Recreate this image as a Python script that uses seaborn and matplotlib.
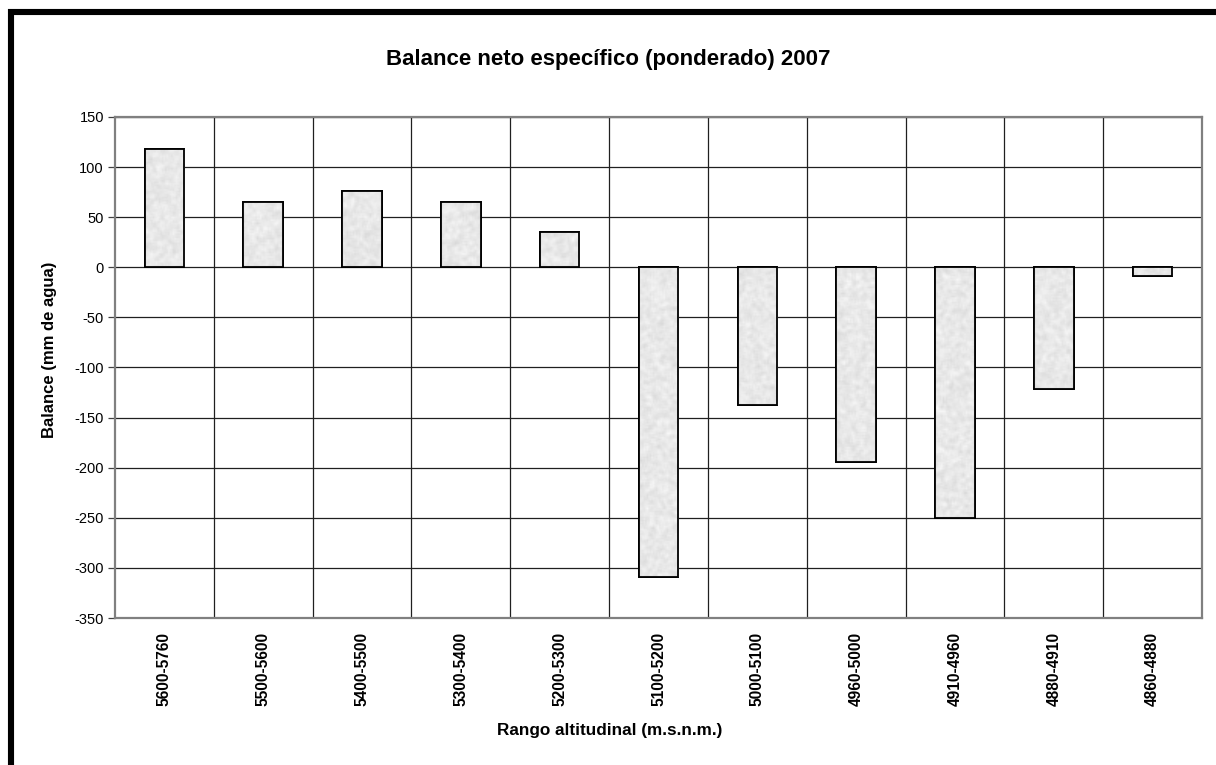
import numpy as np
import pandas as pd
import matplotlib
matplotlib.use("Agg")
import matplotlib.pyplot as plt
from matplotlib.lines import Line2D
import seaborn as sns

# Altitude bands (m a.s.l.) and specific net balance (mm w.e.)
rangos = ["5600-5760", "5500-5600", "5400-5500", "5300-5400", "5200-5300",
          "5100-5200", "5000-5100", "4960-5000", "4910-4960", "4880-4910",
          "4860-4880"]
balance = [118, 65, 76, 65, 35, -309, -137, -194, -250, -121, -9]
y_ticks = [150, 100, 50, 0, -50, -100, -150, -200, -250, -300, -350]

df = pd.DataFrame({"rango": rangos, "balance": balance})

sns.set_theme(style="white")
plt.rcParams["font.family"] = ["Liberation Sans", "DejaVu Sans"]
plt.rcParams["axes.unicode_minus"] = False
plt.rcParams["text.color"] = "black"
plt.rcParams["axes.labelcolor"] = "black"
plt.rcParams["xtick.color"] = "black"
plt.rcParams["ytick.color"] = "black"

W, H = 1216, 765
fig = plt.figure(figsize=(W / 100, H / 100), dpi=100)
ax = fig.add_axes([115 / W, 1 - 618 / H, (1202 - 115) / W, (618 - 117) / H])

sns.barplot(data=df, x="rango", y="balance", order=rangos, width=0.4,
            color="#efefef", edgecolor="black", linewidth=1.3,
            saturation=1, ax=ax, zorder=3)

# light stippled grey fill inside each bar
rng = np.random.default_rng(7)
for patch in ax.patches:
    x0, y0 = patch.get_x(), patch.get_y()
    w, h = patch.get_width(), patch.get_height()
    noise = rng.random((max(int(abs(h) / 1.5), 4), 26))
    k = np.ones(3) / 3
    noise = np.apply_along_axis(lambda r: np.convolve(r, k, mode="same"), 1, noise)
    noise = np.apply_along_axis(lambda c: np.convolve(c, k, mode="same"), 0, noise)
    im = ax.imshow(noise, cmap="gray", vmin=-4.5, vmax=1.0, aspect="auto",
                   extent=(x0, x0 + w, min(y0, y0 + h), max(y0, y0 + h)),
                   interpolation="bilinear", zorder=3.5)
    im.set_clip_path(patch)
    ax.add_patch(plt.Rectangle((x0, y0), w, h, fill=False, edgecolor="black",
                               linewidth=1.3, zorder=4))

ax.set_xlim(-0.5, len(rangos) - 0.5)
ax.set_ylim(-350, 150)
ax.set_yticks(y_ticks)
ax.set_yticklabels([str(v) for v in y_ticks], fontsize=10.5)
ax.set_xticks(range(len(rangos)))
ax.set_xticklabels(rangos, rotation=90, fontsize=11.2, fontweight="bold")
ax.set_xticks(np.arange(len(rangos) - 1) + 0.5, minor=True)

ax.grid(True, axis="y", which="major", color="#202020", linewidth=0.9, zorder=1)
ax.grid(True, axis="x", which="minor", color="#202020", linewidth=0.9, zorder=1)
ax.grid(False, axis="x", which="major")
ax.set_axisbelow(True)

ax.tick_params(axis="y", which="major", direction="out", length=5, width=0.9,
               color="#404040", left=True, pad=3)
ax.tick_params(axis="x", which="both", length=0, pad=10)

for side in ["top", "right", "bottom", "left"]:
    ax.spines[side].set_color("#808080")
    ax.spines[side].set_linewidth(1.6)

ax.set_xlabel("")
ax.set_ylabel("")
fig.text(610 / W, 1 - 730 / H, "Rango altitudinal (m.s.n.m.)",
         ha="center", va="center", fontsize=12.3, fontweight="bold")
fig.text(50 / W, 1 - 350 / H, "Balance (mm de agua)", rotation=90,
         ha="center", va="center", fontsize=12, fontweight="bold")
fig.text(608 / W, 1 - 60 / H, "Balance neto específico (ponderado) 2007",
         ha="center", va="center", fontsize=16, fontweight="bold")

# heavy black frame on the top and left edges of the figure
fig.add_artist(Line2D([8 / W, 1], [1 - 12 / H, 1 - 12 / H],
                      transform=fig.transFigure, color="black", linewidth=4.4,
                      solid_capstyle="butt"))
fig.add_artist(Line2D([11 / W, 11 / W], [0, 1 - 9 / H],
                      transform=fig.transFigure, color="black", linewidth=4.4,
                      solid_capstyle="butt"))

fig.savefig("out.png", dpi=100)
